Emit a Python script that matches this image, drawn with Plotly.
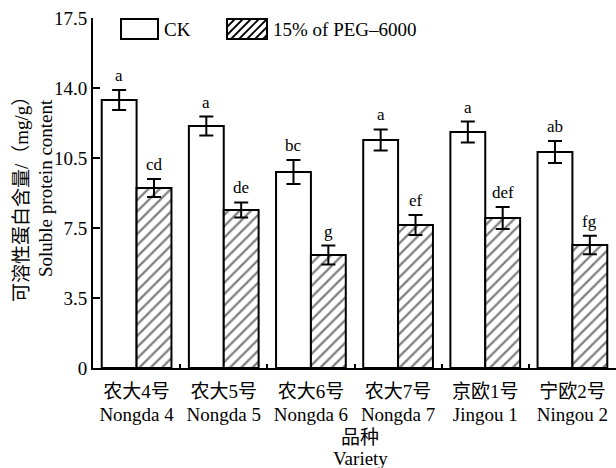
import plotly.graph_objects as go

# Varieties (Chinese name, English name)
names_cn = ["农大4号", "农大5号", "农大6号", "农大7号", "京欧1号", "宁欧2号"]
names_en = ["Nongda 4", "Nongda 5", "Nongda 6", "Nongda 7", "Jingou 1", "Ningou 2"]

# Soluble protein content (mg/g), mean and error
ck_mean = [13.4, 12.1, 9.8, 11.4, 11.8, 10.8]
ck_err = [0.50, 0.47, 0.60, 0.53, 0.52, 0.55]
peg_mean = [9.0, 7.9, 5.65, 7.15, 7.5, 6.15]
peg_err = [0.45, 0.38, 0.47, 0.50, 0.55, 0.46]

# Significance letters
ck_letters = ["a", "a", "bc", "a", "a", "ab"]
peg_letters = ["cd", "de", "g", "ef", "def", "fg"]

# Y axis ticks
y_tickvals = [0, 3.5, 7.0, 10.5, 14.0, 17.5]
y_ticktext = ["0", "3.5", "7.5", "10.5", "14.0", "17.5"]

FONT = "Liberation Serif, 'Noto Sans CJK SC', serif"
W, H = 616, 468
ML, MR, MT, MB = 93, 0, 18, 100
PW, PH = W - ML - MR, H - MT - MB

# two-line category labels; glyphs at 19px on a tighter 17px line pitch
varieties = [f'<span style="font-size:19px">{cn}</span><br>'
             f'<span style="font-size:19px">{en}</span>'
             for cn, en in zip(names_cn, names_en)]


def px_x(x):
    return (x - ML) / PW


def px_y(y):
    return (H - MB - y) / PH


def text_note(x, y, text, angle=0, xanchor="center", size=19):
    return dict(xref="paper", yref="paper", x=px_x(x), y=px_y(y), text=text,
                xanchor=xanchor, yanchor="middle", textangle=angle, showarrow=False,
                font=dict(size=size, family=FONT, color="black"))


fig = go.Figure()
fig.add_trace(go.Bar(
    x=varieties, y=ck_mean, name="CK",
    marker=dict(color="white", line=dict(color="black", width=2)),
    error_y=dict(type="data", array=ck_err, color="black", thickness=2, width=7),
))
fig.add_trace(go.Bar(
    x=varieties, y=peg_mean, name="15% of PEG–6000",
    marker=dict(color="white", line=dict(color="black", width=2),
                pattern=dict(shape="/", fgcolor="black", bgcolor="white",
                             size=8, solidity=0.28)),
    error_y=dict(type="data", array=peg_err, color="black", thickness=2, width=7),
))

annotations = []
for i in range(len(varieties)):
    annotations.append(dict(x=i - 0.2, y=ck_mean[i] + ck_err[i], text=ck_letters[i],
                            showarrow=False, yanchor="bottom", yshift=3,
                            font=dict(size=17, family=FONT, color="black")))
    annotations.append(dict(x=i + 0.2, y=peg_mean[i] + peg_err[i], text=peg_letters[i],
                            showarrow=False, yanchor="bottom", yshift=3,
                            font=dict(size=17, family=FONT, color="black")))

# Legend swatches drawn as boxes with text
shapes = []
legend_items = [(121, 158, "CK", False), (227, 267, "15% of PEG–6000", True)]
box_top, box_bot = 19, 39
for x0, x1, label, hatched in legend_items:
    shapes.append(dict(type="rect", xref="paper", yref="paper",
                       x0=px_x(x0), x1=px_x(x1), y0=px_y(box_bot), y1=px_y(box_top),
                       line=dict(color="black", width=2), fillcolor="white", layer="above"))
    if hatched:
        step = 8
        c = x0 - (box_bot - box_top)
        while c < x1:
            # line from (c, bottom) rising at 45 degrees, clipped to the box
            sx, sy = c, box_bot
            ex, ey = c + (box_bot - box_top), box_top
            if sx < x0:
                sy = box_bot - (x0 - sx)
                sx = x0
            if ex > x1:
                ey = box_top + (ex - x1)
                ex = x1
            if ex > sx:
                shapes.append(dict(type="line", xref="paper", yref="paper",
                                   x0=px_x(sx), y0=px_y(sy), x1=px_x(ex), y1=px_y(ey),
                                   line=dict(color="black", width=1.8), layer="above"))
            c += step
    annotations.append(text_note(x1 + 4, (box_top + box_bot) / 2, label, xanchor="left"))

# Y axis title (two rotated lines)
annotations.append(text_note(21, 195, "可溶性蛋白含量/（mg/g）", angle=-90))
annotations.append(text_note(45, 188, "Soluble protein content", angle=-90))
# X axis title (two lines)
annotations.append(text_note(360, 437, "品种"))
annotations.append(text_note(360, 458, "Variety"))

fig.update_layout(
    width=W, height=H,
    margin=dict(l=ML, r=MR, t=MT, b=MB),
    paper_bgcolor="white", plot_bgcolor="white",
    barmode="group", bargap=0.2, bargroupgap=0,
    showlegend=False,
    font=dict(family=FONT, size=19, color="black"),
    shapes=shapes, annotations=annotations,
)
fig.update_xaxes(
    type="category", showline=True, linecolor="black", linewidth=2,
    ticks="inside", tickson="boundaries", ticklen=4, tickwidth=2, tickcolor="black",
    tickfont=dict(size=17, family=FONT), showgrid=False, zeroline=False,
    ticklabelstandoff=8,
    automargin=False,
)
fig.update_yaxes(
    range=[0, 17.5], tickvals=y_tickvals, ticktext=y_ticktext,
    showline=True, linecolor="black", linewidth=2,
    ticks="inside", ticklen=7, tickwidth=2, tickcolor="black",
    tickfont=dict(size=19, family=FONT), showgrid=False, zeroline=False,
    automargin=False,
)

fig.write_html("out.html")
